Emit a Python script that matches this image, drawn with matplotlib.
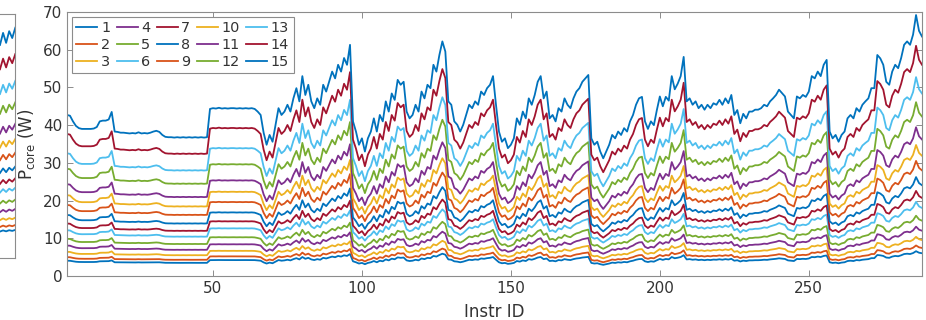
import matplotlib.pyplot as plt
import numpy as np

plt.rcParams['font.family'] = ['DejaVu Sans']

# legend entries (one curve per level)
levels = [str(i) for i in range(1, 16)]
# each curve relative to the top one (read on the flat stretches)
level_scale = [0.095, 0.117, 0.150, 0.189, 0.231, 0.284, 0.326, 0.379,
               0.441, 0.502, 0.570, 0.666, 0.762, 0.882, 1.0]

# top curve (level 15), one value per instruction
p_top = [
    42.7, 42.5, 41.0, 39.8, 39.2, 39.0, 39.0, 39.0, 39.0, 39.1, 39.5, 41.0, 41.2, 41.2, 41.5, 43.5,
    38.3, 38.2, 38.0, 38.0, 37.9, 37.8, 37.9, 37.8, 38.1, 37.8, 37.9, 37.8, 38.0, 38.3, 38.5, 38.2,
    37.4, 36.9, 36.8, 36.8, 36.7, 36.8, 36.7, 36.8, 36.7, 36.8, 36.7, 36.8, 36.7, 36.8, 36.7, 36.8,
    44.3, 44.5, 44.4, 44.6, 44.4, 44.5, 44.4, 44.5, 44.5, 44.4, 44.5, 44.4, 44.5, 44.4, 44.5, 44.3,
    43.6, 42.7, 38.0, 34.8, 37.4, 35.6, 40.1, 44.5, 42.7, 43.6, 45.4, 43.6, 47.1, 49.8, 46.3, 53.0,
    48.0, 50.7, 46.3, 44.5, 47.1, 45.4, 50.7, 48.9, 51.5, 54.2, 52.4, 56.0, 54.2, 57.8, 56.0, 61.3,
    41.0, 38.3, 34.8, 36.5, 33.0, 36.5, 38.3, 41.8, 38.3, 42.7, 41.0, 46.3, 43.6, 48.4, 46.7, 52.0,
    50.7, 51.5, 43.6, 41.8, 42.7, 45.4, 43.6, 48.9, 47.1, 50.7, 49.8, 56.0, 54.2, 58.6, 62.2, 59.5,
    46.3, 45.4, 41.0, 40.1, 38.3, 40.1, 42.7, 45.4, 44.5, 46.3, 45.4, 48.9, 48.0, 49.8, 50.7, 53.0,
    45.4, 38.3, 35.6, 36.5, 33.9, 34.8, 36.5, 41.8, 40.1, 43.6, 41.8, 47.1, 45.4, 48.0, 51.5, 53.0,
    47.1, 48.9, 41.8, 42.7, 41.0, 44.5, 43.6, 47.1, 45.4, 44.5, 47.1, 48.9, 49.8, 51.5, 52.4, 53.3,
    36.5, 34.8, 35.6, 33.0, 31.2, 33.0, 34.8, 37.4, 36.5, 38.3, 37.4, 39.2, 38.3, 41.0, 42.7, 45.4,
    47.1, 47.5, 41.0, 39.0, 41.0, 40.0, 44.0, 47.6, 45.0, 47.5, 46.5, 53.0, 49.5, 51.0, 53.0, 58.1,
    46.3, 47.1, 45.4, 46.3, 44.5, 45.4, 44.1, 45.4, 44.5, 45.8, 45.4, 46.7, 45.4, 47.1, 45.8, 48.0,
    42.7, 44.0, 40.5, 43.0, 41.8, 43.6, 43.6, 44.1, 44.1, 44.5, 45.4, 45.0, 46.3, 47.1, 48.0, 49.4,
    48.5, 47.6, 43.6, 42.7, 41.8, 47.6, 47.1, 48.0, 47.5, 48.9, 53.0, 52.4, 54.2, 53.0, 56.0, 57.3,
    38.3, 36.5, 37.4, 35.6, 37.4, 38.3, 41.8, 42.7, 41.8, 44.5, 43.6, 45.4, 46.3, 47.1, 49.8, 49.8,
    58.6, 57.7, 56.0, 51.5, 50.7, 54.2, 56.0, 55.1, 57.8, 61.3, 62.2, 61.3, 64.0, 69.2, 65.0, 63.5,
]
instr_id = np.arange(1, len(p_top) + 1)

# tail of the neighbouring panel that is cut off at the left edge
neighbor_top = [60.0, 63.5, 60.6, 64.0, 62.0, 65.0]

colors = ['#0072BD', '#D95319', '#EDB120', '#7E2F8E', '#77AC30', '#4DBEEE', '#A2142F']
spine_c = '#8c8c8c'
text_c = '#333333'

fig = plt.figure(figsize=(9.26, 3.2), dpi=100)

# cut-off neighbour panel
ax2 = fig.add_axes([0, 62 / 320, 15.3 / 926, 244 / 320])
nb = np.array(neighbor_top)
for k in range(15):
    ax2.plot(np.arange(1, len(nb) + 1), nb * level_scale[k], color=colors[k % 7], lw=1.3)
ax2.set_xlim(1, len(nb))
ax2.set_ylim(-2, 69)
ax2.set_xticks([])
ax2.set_yticks([])
ax2.spines['left'].set_visible(False)
for s in ['top', 'right', 'bottom']:
    ax2.spines[s].set_color(spine_c)
    ax2.spines[s].set_linewidth(0.8)

# main panel
ax = fig.add_axes([67 / 926, 44 / 320, 855 / 926, 264 / 320])
top = np.array(p_top)
for k in range(15):
    ax.plot(instr_id, top * level_scale[k], color=colors[k % 7], lw=1.3, label=levels[k])

ax.set_xlim(1, 288)
ax.set_ylim(0, 70)
ax.set_xticks([50, 100, 150, 200, 250])
ax.set_yticks(range(0, 71, 10))
ax.tick_params(direction='in', length=4, width=0.7, colors=spine_c,
               labelcolor=text_c, labelsize=11, top=True, right=True)
for s in ax.spines.values():
    s.set_color(spine_c)
    s.set_linewidth(0.8)

ax.set_xlabel('Instr ID', fontsize=12, color=text_c, labelpad=5)
ax.set_ylabel(r'P$_{\mathregular{core}}$ (W)', fontsize=12, color=text_c)
ax.yaxis.set_label_coords(-0.035, 0.5)

leg = ax.legend(ncol=5, loc='upper left', fontsize=10.4, handlelength=1.45,
                handletextpad=0.25, columnspacing=0.45, labelspacing=0.18,
                borderpad=0.3, borderaxespad=0.35, fancybox=False,
                edgecolor=spine_c, framealpha=1)
leg.get_frame().set_linewidth(0.8)
for t in leg.get_texts():
    t.set_color(text_c)

fig.savefig('out.png', dpi=100)
